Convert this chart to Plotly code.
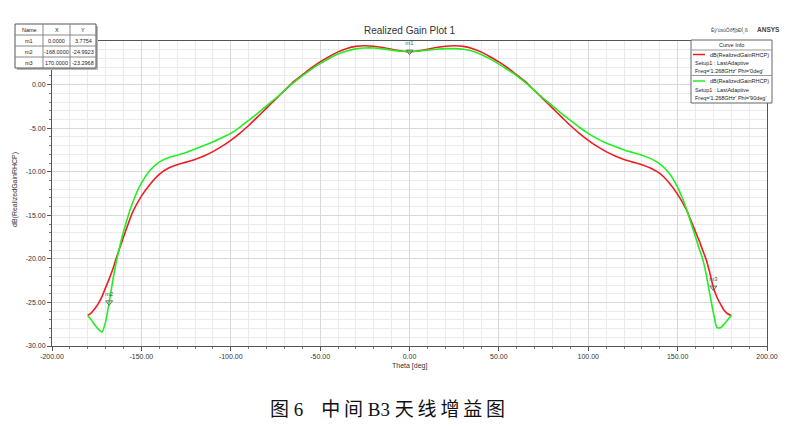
import plotly.graph_objects as go

# ---------------- data ----------------
theta = ([-180, -178, -176, -174, -172, -170, -168, -166, -164, -162, -160]
         + list(range(-155, 160, 5))
         + [160, 162, 164, 166, 168, 170, 172, 174, 176, 178, 180])

gain_phi0 = [
    -26.5, -26.2, -25.7, -25.1, -24.3, -23.3, -22.3, -21.2, -19.9, -18.7, -17.5,
    -14.7, -12.8, -11.4, -10.3, -9.6, -9.2, -8.9, -8.6, -8.2, -7.7, -7.1, -6.4,
    -5.6, -4.7, -3.7, -2.7, -1.7, -0.7, 0.3, 1.1, 1.9, 2.6, 3.2, 3.75, 4.15,
    4.38, 4.45, 4.4, 4.25, 4.05, 3.88, 3.78, 3.88, 4.05, 4.25, 4.4, 4.45, 4.38,
    4.15, 3.75, 3.2, 2.6, 1.9, 1.1, 0.3, -0.7, -1.7, -2.7, -3.7, -4.7, -5.6,
    -6.4, -7.1, -7.7, -8.2, -8.6, -8.9, -9.2, -9.6, -10.2, -11.2, -12.6, -14.4,
    -16.9, -17.9, -19.0, -20.1, -21.6, -23.3, -24.4, -25.2, -25.9, -26.3, -26.5]

gain_phi90 = [
    -26.5, -27.0, -27.6, -28.1, -28.4, -27.2, -25.0, -22.5, -20.3, -18.5, -16.9,
    -13.6, -11.3, -9.8, -8.9, -8.4, -8.1, -7.8, -7.4, -7.0, -6.6, -6.1, -5.6,
    -4.9, -4.1, -3.3, -2.45, -1.6, -0.7, 0.2, 1.0, 1.75, 2.4, 3.0, 3.5, 3.85,
    4.1, 4.2, 4.2, 4.1, 3.95, 3.83, 3.78, 3.83, 3.95, 4.05, 4.12, 4.12, 4.05,
    3.85, 3.45, 2.95, 2.35, 1.7, 1.0, 0.2, -0.7, -1.6, -2.45, -3.3, -4.1, -4.9,
    -5.6, -6.2, -6.7, -7.1, -7.5, -7.8, -8.1, -8.5, -9.1, -10.1, -11.8, -14.3,
    -17.5, -18.8, -20.0, -21.8, -24.0, -26.2, -27.9, -27.9, -27.5, -27.0, -26.5]

marker_names = ["m1", "m2", "m3"]
marker_x = [0.0, -168.0, 170.0]
marker_y = [3.7754, -24.9923, -23.2968]

x_ticks = [-200, -150, -100, -50, 0, 50, 100, 150, 200]
y_ticks = [-30, -25, -20, -15, -10, -5, 0]

legend_title = "Curve Info"
legend_entries = [
    ["dB(RealizedGainRHCP)", "Setup1 : LastAdaptive", "Freq='1.268GHz' Phi='0deg'"],
    ["dB(RealizedGainRHCP)", "Setup1 : LastAdaptive", "Freq='1.268GHz' Phi='90deg'"],
]
title_text = "Realized Gain Plot 1"
garbled_text = "Èý'ùsúÓð¶þÐÍ¸ß"
brand_text = "ANSYS"
caption_text = ("图\u00a06\u00a0\u00a0\u00a0\u2009中\u2009间\u00a0B3\u00a0"
                "天\u2009线\u2009增\u2009益\u2009图")

RED = "#f01c24"
GREEN = "#22ee22"
FONT = "Liberation Sans, Arial, sans-serif"

# ---------------- layout helpers (reference pixel -> paper) ----------------
PAGE_W, PAGE_H = 792, 426
BODY = 8                      # default page body margin
L, R, T, B = 52, 767, 41, 346  # plot area in page pixels
W, H = PAGE_W - BODY, PAGE_H - BODY


def px(x):
    return (x - L) / (R - L)


def py(y):
    return (B - y) / (B - T)


fig = go.Figure()
fig.add_trace(go.Scatter(x=theta, y=gain_phi0, mode="lines",
                         line=dict(color=RED, width=1.6, shape="spline", smoothing=0.5),
                         hoverinfo="skip"))
fig.add_trace(go.Scatter(x=theta, y=gain_phi90, mode="lines",
                         line=dict(color=GREEN, width=1.6, shape="spline", smoothing=0.5),
                         hoverinfo="skip"))
fig.add_trace(go.Scatter(x=marker_x, y=marker_y, mode="markers+text",
                         text=marker_names, textposition="top center",
                         textfont=dict(size=6, color="#555", family=FONT),
                         marker=dict(symbol="triangle-down-open", size=6,
                                     color="#666", line=dict(width=1, color="#666")),
                         hoverinfo="skip"))

shapes = []
annotations = []

# Marker table
tx = [15, 43, 70, 96]
ty = [24, 35, 46, 57, 68]
shapes.append(dict(type="rect", xref="paper", yref="paper",
                   x0=px(tx[0] + 2), x1=px(tx[-1] + 2), y0=py(ty[-1] + 2), y1=py(ty[0] + 2),
                   fillcolor="#b8b8b8", line=dict(width=0), layer="above"))
shapes.append(dict(type="rect", xref="paper", yref="paper",
                   x0=px(tx[0]), x1=px(tx[-1]), y0=py(ty[-1]), y1=py(ty[0]),
                   fillcolor="white", line=dict(color="#555", width=1), layer="above"))
for xx in tx[1:-1]:
    shapes.append(dict(type="line", xref="paper", yref="paper",
                       x0=px(xx), x1=px(xx), y0=py(ty[-1]), y1=py(ty[0]),
                       line=dict(color="#888", width=1), layer="above"))
for yy in ty[1:-1]:
    shapes.append(dict(type="line", xref="paper", yref="paper",
                       x0=px(tx[0]), x1=px(tx[-1]), y0=py(yy), y1=py(yy),
                       line=dict(color="#888", width=1), layer="above"))
rows = [["Name", "X", "Y"]] + [
    [n, f"{x:.4f}", f"{y:.4f}"] for n, x, y in zip(marker_names, marker_x, marker_y)]
for ri, row in enumerate(rows):
    for ci, cell in enumerate(row):
        annotations.append(dict(xref="paper", yref="paper",
                                x=px((tx[ci] + tx[ci + 1]) / 2),
                                y=py((ty[ri] + ty[ri + 1]) / 2),
                                text=cell, showarrow=False,
                                font=dict(size=5.5, color="#222", family=FONT),
                                xanchor="center", yanchor="middle"))

# Curve info legend box
lx0, lx1, ly0, ly1 = 691, 772, 40, 103
shapes.append(dict(type="rect", xref="paper", yref="paper",
                   x0=px(lx0), x1=px(lx1), y0=py(ly1), y1=py(ly0),
                   fillcolor="white", line=dict(color="#666", width=1), layer="above"))
shapes.append(dict(type="line", xref="paper", yref="paper",
                   x0=px(lx0), x1=px(lx1), y0=py(50), y1=py(50),
                   line=dict(color="#999", width=1), layer="above"))
shapes.append(dict(type="line", xref="paper", yref="paper",
                   x0=px(lx0), x1=px(lx1), y0=py(75.5), y1=py(75.5),
                   line=dict(color="#999", width=1), layer="above"))
annotations.append(dict(xref="paper", yref="paper", x=px((lx0 + lx1) / 2), y=py(45),
                        text=legend_title, showarrow=False,
                        font=dict(size=5.5, color="#222", family=FONT),
                        xanchor="center", yanchor="middle"))
for base, color, entry in [(54.5, RED, legend_entries[0]), (81, GREEN, legend_entries[1])]:
    shapes.append(dict(type="line", xref="paper", yref="paper",
                       x0=px(693), x1=px(705), y0=py(base), y1=py(base),
                       line=dict(color=color, width=1.5), layer="above"))
    annotations.append(dict(xref="paper", yref="paper", x=px(771), y=py(base),
                            text=entry[0], showarrow=False,
                            font=dict(size=5.5, color="#222", family=FONT),
                            xanchor="right", yanchor="middle"))
    annotations.append(dict(xref="paper", yref="paper", x=px(692.5), y=py(base + 8.5),
                            text=entry[1], showarrow=False,
                            font=dict(size=5.5, color="#222", family=FONT),
                            xanchor="left", yanchor="middle"))
    annotations.append(dict(xref="paper", yref="paper", x=px(692.5), y=py(base + 16.5),
                            text=entry[2], showarrow=False,
                            font=dict(size=5.5, color="#222", family=FONT),
                            xanchor="left", yanchor="middle"))

# header texts
annotations.append(dict(xref="paper", yref="paper", x=px(410), y=py(31),
                        text=title_text, showarrow=False,
                        font=dict(size=10, color="#333", family=FONT),
                        xanchor="center", yanchor="middle"))
annotations.append(dict(xref="paper", yref="paper", x=px(750), y=py(30),
                        text=garbled_text, showarrow=False,
                        font=dict(size=5, color="#444", family=FONT),
                        xanchor="right", yanchor="middle"))
annotations.append(dict(xref="paper", yref="paper", x=px(755), y=py(29.5),
                        text="<b>" + brand_text + "</b>", showarrow=False,
                        font=dict(size=6.5, color="#444", family=FONT),
                        xanchor="left", yanchor="middle"))
# axis titles
annotations.append(dict(xref="paper", yref="paper", x=px(409), y=py(366),
                        text="Theta [deg]", showarrow=False,
                        font=dict(size=7, color="#333", family=FONT),
                        xanchor="center", yanchor="middle"))
annotations.append(dict(xref="paper", yref="paper", x=px(15), y=py(190),
                        text="dB(RealizedGainRHCP)", showarrow=False, textangle=-90,
                        font=dict(size=7, color="#333", family=FONT),
                        xanchor="center", yanchor="middle"))
# caption
annotations.append(dict(xref="paper", yref="paper", x=px(387), y=py(409),
                        text=caption_text, showarrow=False,
                        font=dict(size=19, color="#111",
                                  family="Liberation Serif, Noto Sans CJK SC, serif"),
                        xanchor="center", yanchor="middle"))

axis_common = dict(showline=True, linecolor="#555", linewidth=1, mirror=True,
                   gridcolor="#d9d9d9", gridwidth=1, zeroline=False,
                   ticks="outside", ticklen=4, tickcolor="#555",
                   tickfont=dict(size=7, color="#333", family=FONT))

fig.update_layout(
    width=W, height=H, autosize=False,
    margin=dict(l=L - BODY, r=PAGE_W - R, t=T - BODY, b=PAGE_H - B),
    paper_bgcolor="white", plot_bgcolor="white",
    showlegend=False,
    xaxis=dict(range=[-200, 200], tickmode="array", tickvals=x_ticks,
               ticktext=[f"{v:.2f}" for v in x_ticks],
               minor=dict(dtick=10, tick0=0, showgrid=True, gridcolor="#ebebeb",
                          ticks="outside", ticklen=2, tickcolor="#777"),
               **axis_common),
    yaxis=dict(range=[-30, 5], tickmode="array", tickvals=y_ticks,
               ticktext=[f"{v:.2f}" for v in y_ticks],
               minor=dict(dtick=1, tick0=0, showgrid=True, gridcolor="#ebebeb",
                          ticks="outside", ticklen=2, tickcolor="#777"),
               **axis_common),
    shapes=shapes,
    annotations=annotations,
)

fig.write_html("out.html")
